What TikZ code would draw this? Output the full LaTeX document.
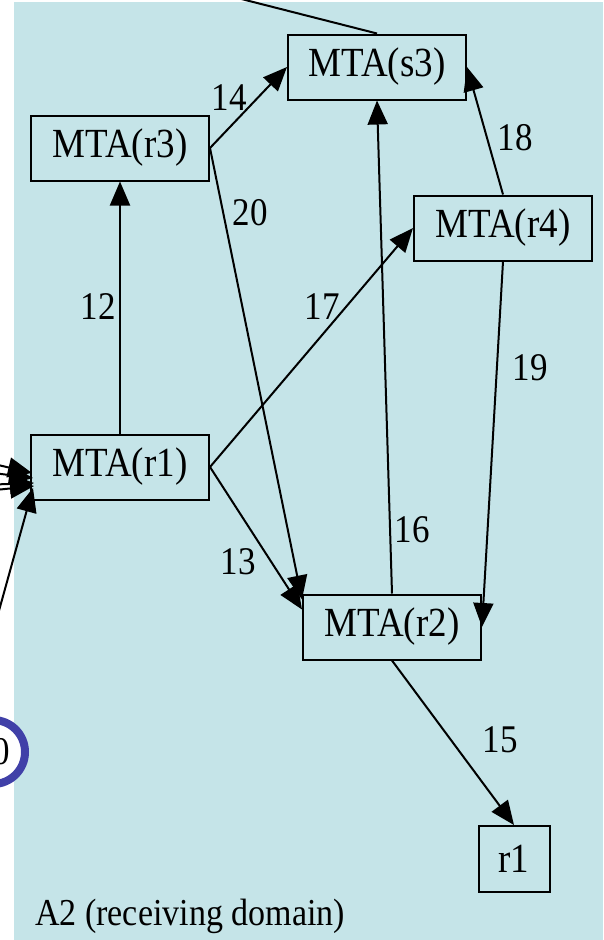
\documentclass[tikz,border=0pt]{standalone}
\usepackage{fontspec}
\usepackage{graphicx}
\setmainfont{Liberation Serif}
\usetikzlibrary{arrows.meta}
\definecolor{bgblue}{RGB}{197,228,232}
\definecolor{ringblue}{RGB}{64,64,168}
\newcommand{\tallt}[1]{\scalebox{1}[1.12]{#1}}
\begin{document}
\begin{tikzpicture}[x=1pt,y=-1pt,
  box/.style={draw, line width=2pt, fill=bgblue, minimum width=178pt, minimum height=65pt, inner sep=0pt, font=\fontsize{37}{42}\selectfont},
  arr/.style={line width=2pt, -{Triangle[length=24pt,width=20pt]}},
  lab/.style={font=\fontsize{35}{40}\selectfont, inner sep=0pt}]
\useasboundingbox (0,0) rectangle (603,940);
\clip (0,0) rectangle (603,940);
\fill[bgblue] (14,2) rectangle (603,940);
% nodes
\node[box] (s3) at (377,67) {\tallt{MTA(s3)}};
\node[box] (r3) at (120,148) {\tallt{MTA(r3)}};
\node[box] (r4) at (503,228) {\tallt{MTA(r4)}};
\node[box] (r1) at (120,467) {\tallt{MTA(r1)}};
\node[box] (r2) at (392,627) {\tallt{MTA(r2)}};
\node[box, minimum width=71pt, minimum height=66pt] (rr) at (514,859) {\tallt{r1}};
\node[draw=ringblue, line width=8pt, circle, fill=white, minimum size=64pt, inner sep=0pt, font=\fontsize{35}{40}\selectfont] (c10) at (-7,752) {\tallt{10}};
\node[lab, anchor=base west, font=\fontsize{34}{38}\selectfont] (dom) at (35,925) {\tallt{A2 (receiving domain)}};
% incoming from outside
\coordinate (top) at (100,-37);
\coordinate (a1) at (-150,430);
\coordinate (a2) at (-150,455);
\coordinate (a3) at (-150,490);
\coordinate (a4) at (-150,505);
\coordinate (a5) at (-23,690);
\draw[line width=2pt] (top) -- (s3.north);
\draw[arr] (a1) -- ([shift={(2pt,-6pt)}]r1.west);
\draw[arr] (a2) -- ([shift={(3pt,-11pt)}]r1.west);
\draw[arr] (a3) -- ([shift={(4pt,-16pt)}]r1.west);
\draw[arr] (a4) -- ([shift={(4pt,-19pt)}]r1.west);
\draw[arr] (a5) -- ([shift={(3pt,-21pt)}]r1.west);
% edges
\draw[arr] (r3.east) -- (s3.west);
\node[lab] at (229,98) {\tallt{14}};
\draw[arr] (r3.east) -- ([yshift=-6pt]r2.north west);
\node[lab] at (250,213) {\tallt{20}};
\draw[arr] (r1.north) -- (r3.south);
\node[lab] at (98,307) {\tallt{12}};
\draw[arr] (r1.east) -- (r4.west);
\node[lab] at (322,307) {\tallt{17}};
\draw[arr] (r1.east) -- ([yshift=-16pt]r2.north west);
\node[lab] at (238,562) {\tallt{13}};
\draw[arr] (r2.north) -- (s3.south);
\node[lab] at (412,530) {\tallt{16}};
\draw[arr] (r4.north) -- (s3.east);
\node[lab] at (515,138) {\tallt{18}};
\draw[arr] (r4.south) -- (r2.east);
\node[lab] at (530,368) {\tallt{19}};
\draw[arr] (r2.south) -- (rr.north);
\node[lab] at (500,740) {\tallt{15}};
\end{tikzpicture}
\end{document}
